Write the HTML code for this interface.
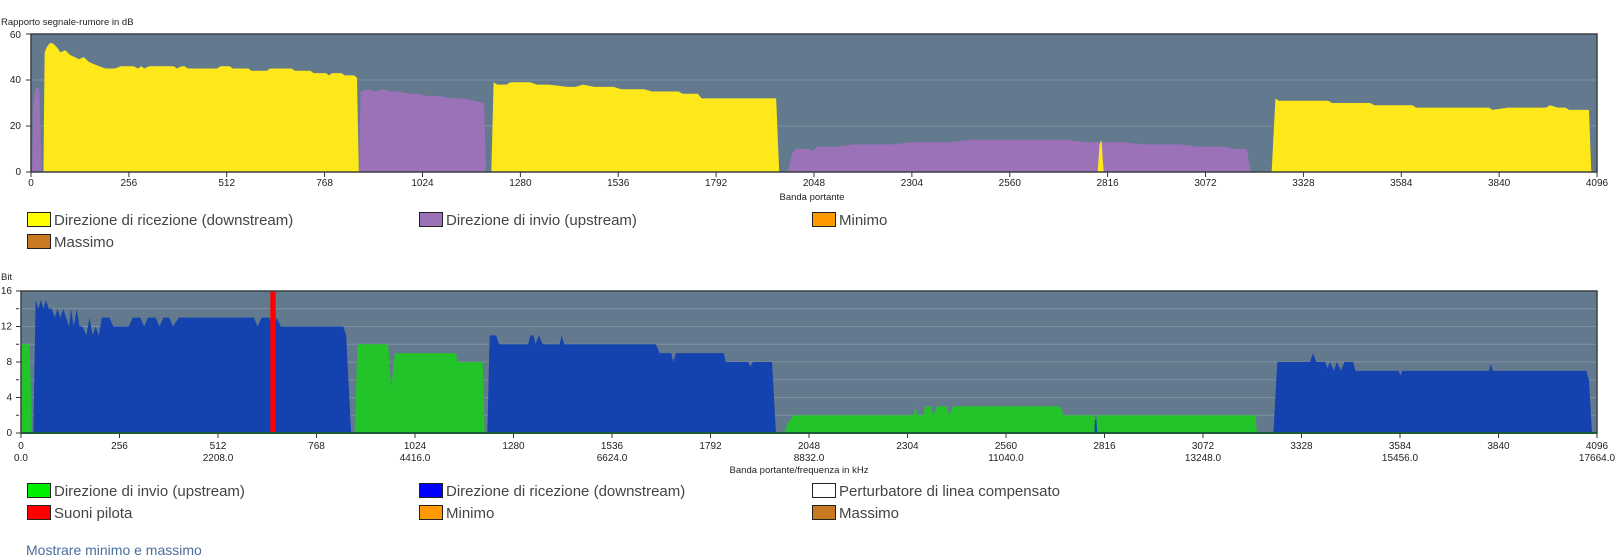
<!DOCTYPE html>
<html><head><meta charset="utf-8"><style>
body{margin:0;background:#fff;width:1622px;height:557px;overflow:hidden;font-family:"Liberation Sans",sans-serif}
svg{position:absolute;left:0;top:0}
.t{font-size:10px;fill:#222}
.lg{font-size:15px;fill:#444}
</style></head><body>
<svg width="1622" height="557" viewBox="0 0 1622 557">
<text x="1" y="25" class="t" style="font-size:9.5px">Rapporto segnale-rumore in dB</text>
<rect x="31" y="34" width="1566" height="138" fill="#637a8e"/>
<line x1="31" y1="126" x2="1597" y2="126" stroke="#7d92a3"/>
<line x1="31" y1="80" x2="1597" y2="80" stroke="#7d92a3"/>
<g transform="translate(31,172) scale(0.38232,-2.3)">
<path fill="#9b72b8" d="M3 0 L6 30 L12 36 L18 37 L22 35 L26 10 L28 0Z"/>
<path fill="#ffe81a" d="M40 0 L44 52 L50 54 L60 56 L70 56 L85 54 L95 52 L110 53 L125 51 L140 50 L155 49 L170 50 L185 48 L200 47 L220 46 L240 45 L270 45 L290 46 L330 46 L345 45 L355 46 L365 45 L380 46 L420 46 L460 46 L470 45 L485 46 L495 46 L505 45 L600 45 L610 46 L640 46 L650 45 L700 45 L710 44 L760 44 L770 45 L840 45 L850 44 L900 44 L910 43 L950 43 L960 42 L970 43 L1000 43 L1010 42 L1040 42 L1050 41 L1056 0Z" transform="scale(0.812,1)"/>
<path fill="#9b72b8" d="M858 0 L862 35 L880 36 L900 35 L920 36 L940 35 L960 35 L990 34 L1010 34 L1040 33 L1070 33 L1100 32 L1130 32 L1160 31 L1185 30 L1190 0Z"/>
<path fill="#ffe81a" d="M1204 0 L1210 39 L1219 38 L1244 38 L1254 39 L1304 39 L1324 38 L1354 38 L1404 37 L1424 37 L1444 38 L1474 37 L1524 37 L1544 36 L1604 36 L1624 35 L1694 35 L1704 34 L1744 34 L1754 32 L1949 32 L1957 0Z"/>
<path fill="#9b72b8" d="M1980 0 L1990 8 L2000 10 L2035 10 L2045 9 L2055 11 L2105 11 L2155 12 L2255 12 L2305 13 L2405 13 L2455 14 L2705 14 L2755 13 L2855 13 L2905 12 L3005 12 L3055 11 L3125 11 L3145 10 L3180 10 L3190 0Z"/>
<path fill="#ffe81a" d="M2790 0 L2795 12 L2800 14 L2803 6 L2806 0Z"/>
<path fill="#ffe81a" d="M3245 0 L3255 32 L3263 31 L3393 31 L3403 30 L3503 30 L3513 29 L3613 29 L3623 28 L3813 28 L3823 27 L3863 28 L3963 28 L3973 29 L3993 28 L4013 28 L4023 27 L4075 27 L4081 0Z"/>
</g>
<rect x="31" y="34" width="1566" height="138" fill="none" stroke="#3a3f44" stroke-width="1.5"/>
<g class="t" text-anchor="end">
<text x="21" y="175">0</text><text x="21" y="129">20</text><text x="21" y="83">40</text><text x="21" y="38">60</text>
</g>
<g stroke="#333"><line x1="26" y1="172" x2="31" y2="172"/><line x1="26" y1="126" x2="31" y2="126"/><line x1="26" y1="80" x2="31" y2="80"/><line x1="26" y1="34" x2="31" y2="34"/></g>
<g class="t" text-anchor="middle">
<text x="31" y="186">0</text><text x="128.9" y="186">256</text><text x="226.7" y="186">512</text><text x="324.6" y="186">768</text><text x="422.5" y="186">1024</text><text x="520.4" y="186">1280</text><text x="618.2" y="186">1536</text><text x="716.1" y="186">1792</text><text x="814" y="186">2048</text><text x="911.9" y="186">2304</text><text x="1009.8" y="186">2560</text><text x="1107.6" y="186">2816</text><text x="1205.5" y="186">3072</text><text x="1303.4" y="186">3328</text><text x="1401.3" y="186">3584</text><text x="1499.1" y="186">3840</text><text x="1597" y="186">4096</text>
<text x="812" y="200" style="font-size:9.5px">Banda portante</text>
</g>
<g stroke="#333"><path d="M31 172v5M128.9 172v5M226.7 172v5M324.6 172v5M422.5 172v5M520.4 172v5M618.2 172v5M716.1 172v5M814 172v5M911.9 172v5M1009.8 172v5M1107.6 172v5M1205.5 172v5M1303.4 172v5M1401.3 172v5M1499.1 172v5M1597 172v5"/></g>
<g stroke="#222" stroke-width="1">
<rect x="27.5" y="212.5" width="23" height="14" fill="#ffff00"/>
<rect x="419.5" y="212.5" width="23" height="14" fill="#9b72b8"/>
<rect x="812.5" y="212.5" width="23" height="14" fill="#ff9900"/>
<rect x="27.5" y="234.5" width="23" height="14" fill="#c87a20"/>
</g>
<g class="lg"><text x="54" y="225">Direzione di ricezione (downstream)</text><text x="446" y="225">Direzione di invio (upstream)</text><text x="839" y="225">Minimo</text><text x="54" y="247">Massimo</text></g>

<text x="1" y="280" class="t" style="font-size:9.5px">Bit</text>
<rect x="21" y="291" width="1576" height="142" fill="#637a8e"/>
<g stroke="#7d92a3"><path d="M21 415.2H1597M21 397.5H1597M21 379.8H1597M21 362H1597M21 344.3H1597M21 326.5H1597M21 308.8H1597"/></g>
<g transform="translate(21,433) scale(0.38477,-8.875)">
<path fill="#22c42a" d="M0 0 L0 10 L22 10 L25 6 L28 0Z"/>
<path fill="#1443b0" d="M32 0 L38 15 L45 14 L52 15 L58 14 L65 15 L72 14 L80 14 L88 13 L95 14 L102 13 L110 14 L117 13 L125 12 L130 14 L137 12 L145 14 L152 12 L160 12 L170 11 L178 13 L186 11 L194 12 L202 11 L210 13 L230 13 L240 12 L280 12 L290 13 L310 13 L320 12 L330 13 L350 13 L360 12 L370 13 L385 13 L395 12 L410 13 L605 13 L615 12 L625 13 L645 13 L655 12 L665 13 L675 12 L838 12 L845 11 L858 0Z"/>
<path fill="#ff0000" d="M648 0 L648 16 L662 16 L662 0Z"/>
<path fill="#22c42a" d="M868 0 L874 10 L954 10 L962 5 L972 9 L1130 9 L1135 8 L1200 8 L1205 0Z"/>
<path fill="#1443b0" d="M1212 0 L1218 11 L1235 11 L1242 10 L1318 10 L1324 11 L1332 11 L1337 10 L1346 11 L1356 10 L1400 10 L1405 11 L1412 10 L1650 10 L1660 9 L1690 9 L1695 8 L1702 9 L1826 9 L1832 8 L1890 8 L1895 7.5 L1902 8 L1952 8 L1962 0Z"/>
<path fill="#22c42a" d="M1984 0 L1992 1 L2008 2 L2320 2 L2325 3 L2330 2 L2345 2 L2350 3 L2365 3 L2370 2 L2380 3 L2405 3 L2412 2 L2422 3 L2700 3 L2710 2 L2790 2 L2793 0.5 L2797 2 L3208 2 L3212 0Z"/>
<path fill="#1443b0" d="M2790 0 L2791 1.5 L2795 1.5 L2797 0Z"/>
<path fill="#1443b0" d="M3255 0 L3265 8 L3340 8 L3350 8 L3358 9 L3366 8 L3390 8 L3395 7.3 L3402 8 L3412 7 L3420 8 L3430 7 L3440 8 L3462 8 L3468 7 L3580 7 L3585 6.5 L3590 7 L3815 7 L3820 7.8 L3825 7 L4068 7 L4075 6 L4083 0Z"/>
</g>
<rect x="21" y="291" width="1576" height="142" fill="none" stroke="#3a3f44" stroke-width="1.5"/>
<line x1="21" y1="433" x2="1597" y2="433" stroke="#1a5c3a" stroke-width="2"/>
<g class="t" text-anchor="end">
<text x="12" y="436">0</text><text x="12" y="400.5">4</text><text x="12" y="365">8</text><text x="12" y="329.5">12</text><text x="12" y="294">16</text>
</g>
<g stroke="#333"><path d="M16 433h5M16 415.2h3M16 397.5h5M16 379.8h3M16 362h5M16 344.3h3M16 326.5h5M16 308.8h3M16 291h5"/></g>
<g class="t" text-anchor="middle">
<text x="21" y="449">0</text><text x="119.5" y="449">256</text><text x="218" y="449">512</text><text x="316.5" y="449">768</text><text x="415" y="449">1024</text><text x="513.5" y="449">1280</text><text x="612" y="449">1536</text><text x="710.5" y="449">1792</text><text x="809" y="449">2048</text><text x="907.5" y="449">2304</text><text x="1006" y="449">2560</text><text x="1104.5" y="449">2816</text><text x="1203" y="449">3072</text><text x="1301.5" y="449">3328</text><text x="1400" y="449">3584</text><text x="1498.5" y="449">3840</text><text x="1597" y="449">4096</text>
<text x="21" y="461">0.0</text><text x="218" y="461">2208.0</text><text x="415" y="461">4416.0</text><text x="612" y="461">6624.0</text><text x="809" y="461">8832.0</text><text x="1006" y="461">11040.0</text><text x="1203" y="461">13248.0</text><text x="1400" y="461">15456.0</text><text x="1597" y="461">17664.0</text>
<text x="799" y="473" style="font-size:9.5px">Banda portante/frequenza in kHz</text>
</g>
<g stroke="#333"><path d="M21 433v5M119.5 433v5M218 433v5M316.5 433v5M415 433v5M513.5 433v5M612 433v5M710.5 433v5M809 433v5M907.5 433v5M1006 433v5M1104.5 433v5M1203 433v5M1301.5 433v5M1400 433v5M1498.5 433v5M1597 433v5"/></g>
<g stroke="#222" stroke-width="1">
<rect x="27.5" y="483.5" width="23" height="14" fill="#00ee00"/>
<rect x="419.5" y="483.5" width="23" height="14" fill="#0000ff"/>
<rect x="812.5" y="483.5" width="23" height="14" fill="#ffffff"/>
<rect x="27.5" y="505.5" width="23" height="14" fill="#ff0000"/>
<rect x="419.5" y="505.5" width="23" height="14" fill="#ff9900"/>
<rect x="812.5" y="505.5" width="23" height="14" fill="#c87a20"/>
</g>
<g class="lg"><text x="54" y="496">Direzione di invio (upstream)</text><text x="446" y="496">Direzione di ricezione (downstream)</text><text x="839" y="496">Perturbatore di linea compensato</text><text x="54" y="518">Suoni pilota</text><text x="446" y="518">Minimo</text><text x="839" y="518">Massimo</text></g>
<text x="26" y="555" style="font-size:14px;fill:#4a6d9c">Mostrare minimo e massimo</text>
</svg>
</body></html>
